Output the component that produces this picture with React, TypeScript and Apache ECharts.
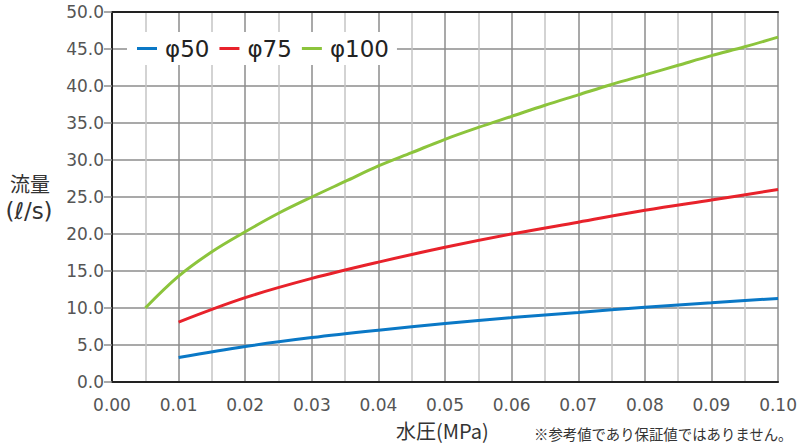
import React, { useEffect, useRef } from "react";
import * as echarts from "echarts";

const seriesNames = ["φ50", "φ75", "φ100"];
const seriesColors = ["#0a78c6", "#e8222b", "#8cc43c"];

const pressure50 = [0.01, 0.02, 0.03, 0.04, 0.05, 0.06, 0.07, 0.08, 0.09, 0.1];
const flow50 = [3.3, 4.8, 6.0, 7.0, 7.9, 8.7, 9.4, 10.1, 10.7, 11.3];

const pressure75 = [0.01, 0.02, 0.03, 0.04, 0.05, 0.06, 0.07, 0.08, 0.09, 0.1];
const flow75 = [8.1, 11.4, 14.0, 16.2, 18.2, 20.0, 21.6, 23.2, 24.6, 26.0];

const pressure100 = [
  0.005, 0.01, 0.015, 0.02, 0.025, 0.03, 0.035, 0.04, 0.045, 0.05,
  0.055, 0.06, 0.065, 0.07, 0.075, 0.08, 0.085, 0.09, 0.095, 0.1,
];
const flow100 = [
  10.0, 14.3, 17.6, 20.3, 22.8, 25.0, 27.1, 29.2, 31.0, 32.8,
  34.4, 35.9, 37.4, 38.8, 40.2, 41.5, 42.8, 44.1, 45.3, 46.6,
];

const yTitleLines = ["流量", "(ℓ/s)"];
const xTitle = "水圧(MPa)";
const note = "※参考値であり保証値ではありません。";

const FONT = "'DejaVu Sans', 'Noto Sans CJK JP', sans-serif";
const JFONT = "'Noto Sans CJK JP', sans-serif";

function pairs(xs: number[], ys: number[]) {
  return xs.map((x, i) => [x, ys[i]]);
}

export default function App() {
  const ref = useRef<HTMLDivElement>(null);
  useEffect(() => {
    if (!ref.current) return;
    const chart = echarts.init(ref.current, undefined, { renderer: "svg" });
    const data = [pairs(pressure50, flow50), pairs(pressure75, flow75), pairs(pressure100, flow100)];
    chart.setOption({
      animation: false,
      backgroundColor: "#ffffff",
      textStyle: { fontFamily: FONT },
      grid: { left: 112, right: 15, top: 12, bottom: 62, containLabel: false },
      legend: {
        left: 127,
        top: 32,
        padding: [5, 8, 5, 10],
        backgroundColor: "#ffffff",
        itemWidth: 20,
        itemHeight: 3,
        itemGap: 10,
        icon: "rect",
        data: seriesNames,
        textStyle: { fontSize: 23, color: "#222222", fontFamily: FONT, padding: [0, 0, 0, 3] },
      },
      xAxis: [
        {
          type: "value",
          min: 0,
          max: 0.1,
          interval: 0.01,
          axisLine: { show: true, onZero: false, lineStyle: { color: "#222222", width: 2 } },
          axisTick: { show: false },
          axisLabel: {
            color: "#555555",
            fontSize: 17,
            margin: 14,
            fontFamily: FONT,
            formatter: (v: number) => v.toFixed(2),
          },
          splitLine: { show: true, lineStyle: { color: "#8c8c8c", width: 1.5 } },
          minorTick: { show: false, splitNumber: 2 },
          minorSplitLine: { show: true, lineStyle: { color: "#c4c4c4", width: 1.5 } },
        },
        {
          type: "value",
          position: "top",
          min: 0,
          max: 0.1,
          interval: 0.01,
          axisLine: { show: true, onZero: false, lineStyle: { color: "#222222", width: 2 } },
          axisTick: { show: false },
          axisLabel: { show: false },
          splitLine: { show: false },
        },
      ],
      yAxis: {
        type: "value",
        min: 0,
        max: 50,
        interval: 5,
        axisLine: { show: true, onZero: false, lineStyle: { color: "#222222", width: 2 } },
        axisTick: { show: true, length: 8, lineStyle: { color: "#8c8c8c", width: 1.5 } },
        axisLabel: {
          color: "#555555",
          fontSize: 17,
          margin: 8,
          fontFamily: FONT,
          formatter: (v: number) => v.toFixed(1),
        },
        splitLine: { show: true, lineStyle: { color: "#8c8c8c", width: 1.5 } },
      },
      series: seriesNames.map((name, i) => ({
        name,
        type: "line",
        data: data[i],
        smooth: 0.35,
        showSymbol: false,
        symbol: "none",
        lineStyle: { color: seriesColors[i], width: 3 },
        itemStyle: { color: seriesColors[i] },
        z: 3,
      })),
      graphic: [
        {
          type: "text",
          x: 30,
          y: 183.5,
          style: {
            text: yTitleLines[0],
            fontSize: 20,
            align: "center",
            verticalAlign: "middle",
            fill: "#333333",
            fontFamily: JFONT,
          },
        },
        {
          type: "text",
          x: 29,
          y: 211,
          style: {
            text: yTitleLines[1],
            fontSize: 23,
            align: "center",
            verticalAlign: "middle",
            fill: "#333333",
            fontFamily: FONT,
          },
        },
        {
          type: "text",
          x: 396,
          y: 430.5,
          style: {
            text: xTitle,
            fontSize: 20,
            align: "left",
            verticalAlign: "middle",
            fill: "#333333",
            fontFamily: JFONT,
          },
        },
        {
          type: "text",
          x: 534,
          y: 433.5,
          style: {
            text: note,
            fontSize: 14.4,
            align: "left",
            verticalAlign: "middle",
            fill: "#333333",
            fontFamily: JFONT,
          },
        },
      ],
    });
    return () => chart.dispose();
  }, []);
  return (
    <div
      ref={ref}
      style={{ position: "fixed", left: 0, top: 0, width: 800, height: 444 }}
    />
  );
}
